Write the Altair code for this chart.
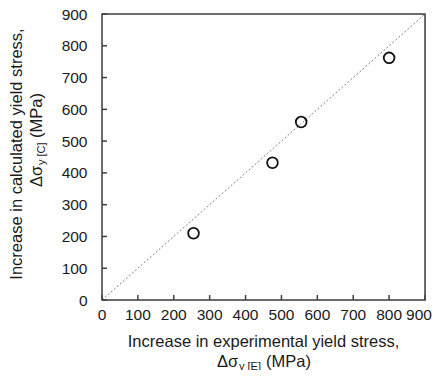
import altair as alt
import pandas as pd

# data
exp_stress = [255, 475, 555, 800]      # increase in experimental yield stress (MPa)
calc_stress = [210, 432, 560, 762]     # increase in calculated yield stress (MPa)
tick_values = [0, 100, 200, 300, 400, 500, 600, 700, 800, 900]
tick_labels = [str(v) for v in tick_values]
diag_values = [0, 900]

x_title_1 = "Increase in experimental yield stress,"
y_title_1 = "Increase in calculated yield stress,"
main_sym = "Δσ"
x_sub = "y [E]"
y_sub = "y [C]"
unit = "(MPa)"

W, H = 323, 286
FONT = "Liberation Sans"
FS = 16.5
TFS = 15.5
SUB = 11
TXT = "#1a1a1a"
AX = "#404040"

xs = alt.Scale(domain=[0, 900], nice=False, zero=False)
ys = alt.Scale(domain=[0, 900], nice=False, zero=False)

pts = pd.DataFrame({"e": exp_stress, "c": calc_stress})
diag = pd.DataFrame({"v": diag_values})
tk = pd.DataFrame({"t": tick_values, "lab": tick_labels})

xaxis = alt.Axis(values=tick_values, title=None, domain=False, ticks=False, grid=False,
                 labels=False)
yaxis = alt.Axis(values=tick_values, title=None, domain=False, ticks=False, grid=False,
                 labelPadding=15, labelFont=FONT, labelFontSize=TFS, labelColor=TXT,
                 labelOverlap=False, labelFlush=False)

diag_line = alt.Chart(diag).mark_line(color="#808080", strokeDash=[2, 2], strokeWidth=1).encode(
    x=alt.X("v:Q", scale=xs, axis=xaxis),
    y=alt.Y("v:Q", scale=ys, axis=yaxis),
)

xticks = alt.Chart(tk).mark_rule(color=AX, strokeWidth=1.5).encode(
    x=alt.X("t:Q", scale=xs, axis=xaxis), y=alt.value(H), y2=alt.value(H - 5)
)
yticks = alt.Chart(tk).mark_rule(color=AX, strokeWidth=1.5).encode(
    y=alt.Y("t:Q", scale=ys, axis=yaxis), x=alt.value(0), x2=alt.value(5)
)

# x tick labels (last one nudged left so that it stays inside the page)
xlabels_main = alt.Chart(tk[tk["t"] < 900]).mark_text(
    font=FONT, fontSize=TFS, color=TXT, baseline="top", align="center"
).encode(x=alt.X("t:Q", scale=xs, axis=xaxis), y=alt.value(H + 8), text="lab:N")
xlabels_end = alt.Chart(tk[tk["t"] >= 900]).mark_text(
    font=FONT, fontSize=TFS, color=TXT, baseline="top", align="center", dx=-6
).encode(x=alt.X("t:Q", scale=xs, axis=xaxis), y=alt.value(H + 8), text="lab:N")

frame_df = pd.DataFrame({"k": [0]})
frame = alt.Chart(frame_df).mark_rect(fill=None, stroke=AX, strokeWidth=1.5).encode(
    x=alt.value(0), x2=alt.value(W), y=alt.value(0), y2=alt.value(H)
)

points = alt.Chart(pts).mark_point(shape="circle", filled=False, size=115, strokeWidth=1.8,
                                   color="#111111", opacity=1).encode(
    x=alt.X("e:Q", scale=xs, axis=xaxis), y=alt.Y("c:Q", scale=ys, axis=yaxis)
)

def txt(s, x, y, size=FS, angle=0, align="center"):
    return alt.Chart(pd.DataFrame({"s": [s]})).mark_text(
        font=FONT, fontSize=size, color=TXT, angle=angle, align=align, baseline="middle"
    ).encode(text="s:N", x=alt.value(x), y=alt.value(y))

# x title
xt1 = txt(x_title_1, W / 2, 328)
xt2a = txt(main_sym, 115, 348, align="left")
xt2b = txt(x_sub, 137, 352.5, size=SUB, align="left")
xt2c = txt(unit, 164, 348, align="left")

# y title (rotated)
yt1 = txt(y_title_1, -85, H / 2 - 3, angle=270)
yt2a = txt(main_sym, -65, 173, angle=270, align="left")
yt2b = txt(y_sub, -60.5, 151, size=SUB, angle=270, align="left")
yt2c = txt(unit, -65, 124, angle=270, align="left")

chart = alt.layer(
    diag_line, xticks, yticks, frame, points, xlabels_main, xlabels_end,
    xt1, xt2a, xt2b, xt2c, yt1, yt2a, yt2b, yt2c,
).properties(
    width=W, height=H,
    autosize=alt.AutoSizeParams(type="none"),
    padding={"left": 94, "top": 6, "right": 7, "bottom": 70},
).configure_view(strokeWidth=0).configure(background="white")

chart.save("out.html", embed_options={"renderer": "svg", "actions": False})
